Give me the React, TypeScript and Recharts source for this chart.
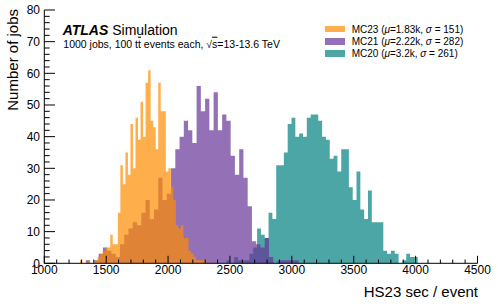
import { Area, ComposedChart, Legend, XAxis, YAxis } from "recharts";

// jobs per bin, 50 bins per campaign
const mc23Counts = [1, 0, 0, 1, 0, 0, 1, 2, 3, 4, 5, 5, 9, 6, 6, 16, 31, 25, 35, 28, 44, 30, 46, 39, 51, 40, 57, 61, 45, 43, 36, 57, 48, 48, 29, 30, 24, 20, 12, 11, 12, 8, 8, 4, 3, 2, 1, 1, 1, 1];
const mc21Counts = [1, 0, 1, 3, 5, 4, 3, 2, 6, 9, 11, 13, 12, 16, 20, 14, 17, 27, 20, 22, 30, 36, 40, 45, 42, 38, 56, 48, 52, 42, 54, 42, 47, 45, 34, 28, 36, 27, 18, 7, 6, 5, 8, 2, 0, 1, 1, 1, 1, 1];
const mc20Counts = [1, 0, 2, 1, 1, 1, 3, 5, 11, 9, 8, 16, 14, 31, 31, 35, 44, 46, 40, 41, 40, 46, 47, 47, 45, 40, 39, 33, 34, 29, 36, 36, 24, 20, 29, 17, 14, 23, 13, 13, 13, 4, 3, 4, 3, 0, 1, 3, 2, 2];

// first bin edge and bin width (HS23 sec / event)
const mc23Bins = { start: 1288, width: 20.4 };
const mc21Bins = { start: 1336, width: 34.4 };
const mc20Bins = { start: 2472, width: 30.9 };

const xTicks = [1000, 1100, 1200, 1300, 1400, 1500, 1600, 1700, 1800, 1900, 2000, 2100, 2200, 2300, 2400, 2500, 2600, 2700, 2800, 2900, 3000, 3100, 3200, 3300, 3400, 3500, 3600, 3700, 3800, 3900, 4000, 4100, 4200, 4300, 4400, 4500];
const yTicks = [0, 2, 4, 6, 8, 10, 12, 14, 16, 18, 20, 22, 24, 26, 28, 30, 32, 34, 36, 38, 40, 42, 44, 46, 48, 50, 52, 54, 56, 58, 60, 62, 64, 66, 68, 70, 72, 74, 76, 78, 80];

const legendRows = [
  { name: "MC23", mu: "1.83k", sigma: "151", color: "#ff8c00" },
  { name: "MC21", mu: "2.22k", sigma: "282", color: "#663399" },
  { name: "MC20", mu: "3.2k", sigma: "261", color: "#008080" },
];

const FONT = "'Liberation Sans', Arial, Helvetica, sans-serif";
const ALPHA = 0.7;

type Bins = { start: number; width: number };

const countAt = (counts: number[], bins: Bins, x: number) => {
  const i = Math.floor((x - bins.start) / bins.width + 1e-3);
  return i >= 0 && i < counts.length ? counts[i] : 0;
};

const edgeSet = new Set<number>([1000, 4500]);
([
  [mc23Counts, mc23Bins],
  [mc21Counts, mc21Bins],
  [mc20Counts, mc20Bins],
] as [number[], Bins][]).forEach(([counts, bins]) => {
  for (let i = 0; i <= counts.length; i++) edgeSet.add(+(bins.start + i * bins.width).toFixed(3));
});

const histData = [...edgeSet]
  .sort((a, b) => a - b)
  .map((x) => ({
    x,
    mc23: countAt(mc23Counts, mc23Bins, x),
    mc21: countAt(mc21Counts, mc21Bins, x),
    mc20: countAt(mc20Counts, mc20Bins, x),
  }));

const BottomTick = ({ x, y, payload }: any) => {
  const major = payload.value % 500 === 0;
  return (
    <g>
      <line x1={x} x2={x} y1={y} y2={y - (major ? 7.5 : 3.8)} stroke="#000" />
      {major && (
        <text x={x} y={y + 2.3} dy="0.71em" textAnchor="middle" fontSize={12} fill="#000">
          {payload.value}
        </text>
      )}
    </g>
  );
};

const TopTick = ({ x, y, payload }: any) => {
  const major = payload.value % 500 === 0;
  return <line x1={x} x2={x} y1={y} y2={y + (major ? 7.5 : 3.8)} stroke="#000" />;
};

const LeftTick = ({ x, y, payload }: any) => {
  const major = payload.value % 10 === 0;
  return (
    <g>
      <line x1={x} x2={x + (major ? 10.7 : 5.4)} y1={y} y2={y} stroke="#000" />
      {major && (
        <text x={x - 4.3} y={y} dy="0.355em" textAnchor="end" fontSize={12} fill="#000">
          {payload.value}
        </text>
      )}
    </g>
  );
};

const RightTick = ({ x, y, payload }: any) => {
  const major = payload.value % 10 === 0;
  return <line x1={x} x2={x - (major ? 10.7 : 5.4)} y1={y} y2={y} stroke="#000" />;
};

const renderLegend = () => (
  <div style={{ fontFamily: FONT, fontSize: 10, color: "#000" }}>
    {legendRows.map((row) => (
      <div key={row.name} style={{ display: "flex", alignItems: "center", height: 12.3, whiteSpace: "nowrap" }}>
        <div style={{ width: 20, height: 6.7, background: row.color, opacity: ALPHA, marginRight: 6.7 }} />
        <span>
          {row.name} (<i>μ</i>={row.mu}, <i>σ</i> = {row.sigma})
        </span>
      </div>
    ))}
  </div>
);

export default function App() {
  return (
    <div style={{ position: "absolute", left: 0, top: 0, width: 498, height: 306, background: "#fff", fontFamily: FONT }}>
      <ComposedChart width={498} height={306} data={histData} margin={{ top: 10, right: 20.5, bottom: 0, left: 0 }}>
        <Area type="stepAfter" dataKey="mc20" stroke="none" fill="#008080" fillOpacity={ALPHA} dot={false} activeDot={false} isAnimationActive={false} />
        <Area type="stepAfter" dataKey="mc21" stroke="none" fill="#663399" fillOpacity={ALPHA} dot={false} activeDot={false} isAnimationActive={false} />
        <Area type="stepAfter" dataKey="mc23" stroke="none" fill="#ff8c00" fillOpacity={ALPHA} dot={false} activeDot={false} isAnimationActive={false} />
        <XAxis
          dataKey="x"
          type="number"
          domain={[1000, 4500]}
          allowDataOverflow
          ticks={xTicks}
          interval={0}
          height={42.7}
          tickSize={0}
          tickMargin={0}
          tickLine={false}
          tick={<BottomTick />}
          axisLine={{ stroke: "#000" }}
          label={{
            content: ({ viewBox }: any) => (
              <text x={viewBox.x + viewBox.width + 0.5} y={296.7} textAnchor="end" fontSize={15} fill="#000">
                HS23 sec / event
              </text>
            ),
          }}
        />
        <XAxis
          xAxisId="top"
          dataKey="x"
          type="number"
          orientation="top"
          domain={[1000, 4500]}
          allowDataOverflow
          ticks={xTicks}
          interval={0}
          height={0}
          tickSize={0}
          tickMargin={0}
          tickLine={false}
          tick={<TopTick />}
          axisLine={{ stroke: "#000" }}
        />
        <YAxis
          type="number"
          domain={[0, 80]}
          allowDataOverflow
          ticks={yTicks}
          interval={0}
          width={44.3}
          tickSize={0}
          tickMargin={0}
          tickLine={false}
          tick={<LeftTick />}
          axisLine={{ stroke: "#000" }}
          label={{
            content: () => (
              <text x={17.5} y={9} transform="rotate(-90 17.5 9)" textAnchor="end" fontSize={15} fill="#000">
                Number of jobs
              </text>
            ),
          }}
        />
        <YAxis
          yAxisId="right"
          type="number"
          orientation="right"
          domain={[0, 80]}
          allowDataOverflow
          ticks={yTicks}
          interval={0}
          width={0}
          tickSize={0}
          tickMargin={0}
          tickLine={false}
          tick={<RightTick />}
          axisLine={{ stroke: "#000" }}
        />
        <Legend
          layout="horizontal"
          verticalAlign="middle"
          align="center"
          wrapperStyle={{ left: 325, top: 23, width: 170, height: 40 }}
          content={renderLegend}
        />
      </ComposedChart>
      <svg width={498} height={306} style={{ position: "absolute", left: 0, top: 0, pointerEvents: "none" }}>
        <text x={62.7} y={35} fontSize={14} fill="#000">
          <tspan fontWeight="bold" fontStyle="italic">ATLAS</tspan>
          <tspan> Simulation</tspan>
        </text>
        <text x={63.3} y={47.7} fontSize={10.5} fill="#000">
          1000 jobs, 100 t<tspan style={{ textDecoration: "overline" }}>t</tspan> events each, √<tspan style={{ textDecoration: "overline" }}>s</tspan>=13-13.6 TeV
        </text>
      </svg>
    </div>
  );
}
